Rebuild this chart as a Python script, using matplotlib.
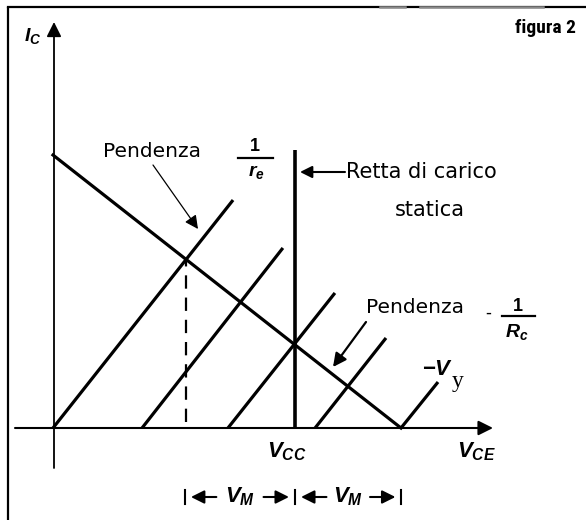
import numpy as np
import matplotlib
matplotlib.use('Agg')
import matplotlib.pyplot as plt

# font per le etichette in corsivo grassetto (V_CC, V_CE, ...)
plt.rcParams['font.family'] = ['DejaVu Sans']
plt.rcParams['mathtext.fontset'] = 'custom'
plt.rcParams['mathtext.it'] = 'Liberation Sans:italic:bold'
plt.rcParams['mathtext.rm'] = 'Liberation Sans:bold'
plt.rcParams['mathtext.bf'] = 'Liberation Sans:bold'

# dati (unita arbitrarie, origine sugli assi)
vcc = 10.0
load_x = [0.0, 14.38]          # retta di carico: da I_C max a V_CE max
load_y = [11.28, 0.0]
base_x = [0.0, 3.68, 7.23, 10.83, 14.38]     # inizio delle rette di pendenza 1/r_e
top_x = [7.44, 9.50, 11.65, 13.76, 15.91]
top_y = [9.42, 7.44, 5.58, 3.72, 1.90]
vcc_top = 11.49
q_x = 5.5                      # punto di lavoro
q_y = 6.97
vm_marks = [5.45, 10.0, 14.4]  # |<- V_M ->|<- V_M ->|

# scala: pixel per unita e posizione dell'origine nella figura 586x520
U = 24.2
X0, Y0 = 53, 428
W, H = 586, 520


def P(xp, yp):
    # pixel del disegno -> coordinate dati
    return (xp - X0) / U, (Y0 - yp) / U


fig = plt.figure(figsize=(W / 100, H / 100), dpi=100)
ax = fig.add_axes([0, 0, 1, 1])
ax.set_xlim(-X0 / U, (W - X0) / U)
ax.set_ylim(-(H - Y0) / U, Y0 / U)
ax.axis('off')

# cornice (sinistra e sopra)
ax.plot([P(8, 7)[0], P(8, 520)[0]], [P(8, 7)[1], P(8, 520)[1]], color='black', lw=1.6, solid_capstyle='butt')
ax.plot([P(8, 7)[0], P(586, 7)[0]], [P(8, 7)[1]] * 2, color='black', lw=1.6)
ax.plot([P(380, 7)[0], P(405, 7)[0]], [P(8, 7)[1]] * 2, color='#8a8a8a', lw=1.8)
ax.plot([P(420, 7)[0], P(543, 7)[0]], [P(8, 7)[1]] * 2, color='#8a8a8a', lw=1.8)

# assi con frecce
ax.annotate('', xy=P(493, 428), xytext=P(15, 428),
            arrowprops=dict(arrowstyle='-|>', lw=1.5, color='black', mutation_scale=22, shrinkA=0, shrinkB=0))
ax.annotate('', xy=P(54, 22), xytext=P(54, 468),
            arrowprops=dict(arrowstyle='-|>', lw=1.3, color='black', mutation_scale=22, shrinkA=0, shrinkB=0))

# rette parallele (pendenza 1/r_e)
for bx, tx, ty in zip(base_x, top_x, top_y):
    ax.plot([bx, tx], [0, ty], color='black', lw=2.3, solid_capstyle='butt')

# retta di carico dinamica
ax.plot(load_x, load_y, color='black', lw=2.3)

# retta di carico statica (verticale a V_CC)
ax.plot([vcc, vcc], [0, vcc_top], color='black', lw=2.6, solid_capstyle='butt')

# tratteggio dal punto di lavoro
ax.plot([q_x, q_x], [0.25, q_y], color='black', lw=1.6, linestyle=(0, (6, 4)))

# etichette assi
ax.text(*P(33, 36), r'$I_C$', fontsize=14, ha='center', va='center')
ax.text(*P(287, 452), r'$V_{CC}$', fontsize=16, ha='center', va='center')
ax.text(*P(476, 452), r'$V_{CE}$', fontsize=16, ha='center', va='center')
ax.text(*P(545, 28), 'figura 2', fontsize=14, fontweight='bold', ha='center', va='center',
        fontstretch='condensed',
        family=['DejaVu Sans Condensed', 'Liberation Sans Narrow', 'Roboto Condensed', 'Liberation Sans'])

# Pendenza 1/r_e
ax.text(*P(152, 152), 'Pendenza', fontsize=14.5, ha='center', va='center')
ax.text(*P(255, 146), r'$1$', fontsize=13, ha='center', va='center')
ax.plot([P(238, 158)[0], P(273, 158)[0]], [P(238, 158)[1]] * 2, color='black', lw=1.6)
ax.text(*P(256, 172), r'$r_e$', fontsize=14, ha='center', va='center')
ax.annotate('', xy=P(198, 229), xytext=P(153, 165),
            arrowprops=dict(arrowstyle='-|>', lw=0.9, color='black', mutation_scale=20, shrinkA=0, shrinkB=0))

# Retta di carico statica
ax.text(*P(346, 172), 'Retta di carico', fontsize=15, ha='left', va='center')
ax.text(*P(430, 210), 'statica', fontsize=15, ha='center', va='center')
ax.annotate('', xy=P(300, 172), xytext=P(345, 172),
            arrowprops=dict(arrowstyle='-|>', lw=1.5, color='black', mutation_scale=18, shrinkA=0, shrinkB=0))

# Pendenza -1/R_c
ax.text(*P(415, 308), 'Pendenza', fontsize=14.5, ha='center', va='center')
ax.text(*P(488, 313), '-', fontsize=12, ha='center', va='center')
ax.text(*P(518, 306), r'$1$', fontsize=13, ha='center', va='center')
ax.plot([P(502, 316)[0], P(535, 316)[0]], [P(502, 316)[1]] * 2, color='black', lw=1.6)
ax.text(*P(517, 332), r'$R_c$', fontsize=14, ha='center', va='center')
ax.annotate('', xy=P(333, 367), xytext=P(366, 322),
            arrowprops=dict(arrowstyle='-|>', lw=1.6, color='black', mutation_scale=20, shrinkA=0, shrinkB=0))

# -V_y
ax.text(*P(438, 369), r'$-V$', fontsize=16, ha='center', va='center')
ax.text(*P(458, 381), 'y', fontsize=17, ha='center', va='center', family='Liberation Serif')

# quote V_M
vm_y = P(0, 497)[1]
for xm in vm_marks:
    ax.plot([xm, xm], [vm_y - 0.3, vm_y + 0.3], color='black', lw=1.5)
for a, b in zip(vm_marks[:-1], vm_marks[1:]):
    ax.annotate('', xy=(a + 0.25, vm_y), xytext=(a + 1.3, vm_y),
                arrowprops=dict(arrowstyle='-|>', lw=1.5, color='black', mutation_scale=20, shrinkA=0, shrinkB=0))
    ax.annotate('', xy=(b - 0.25, vm_y), xytext=(b - 1.3, vm_y),
                arrowprops=dict(arrowstyle='-|>', lw=1.5, color='black', mutation_scale=20, shrinkA=0, shrinkB=0))
    ax.text((a + b) / 2, vm_y, r'$V_M$', fontsize=16, ha='center', va='center')

fig.savefig('out.png', dpi=100, facecolor='white')
